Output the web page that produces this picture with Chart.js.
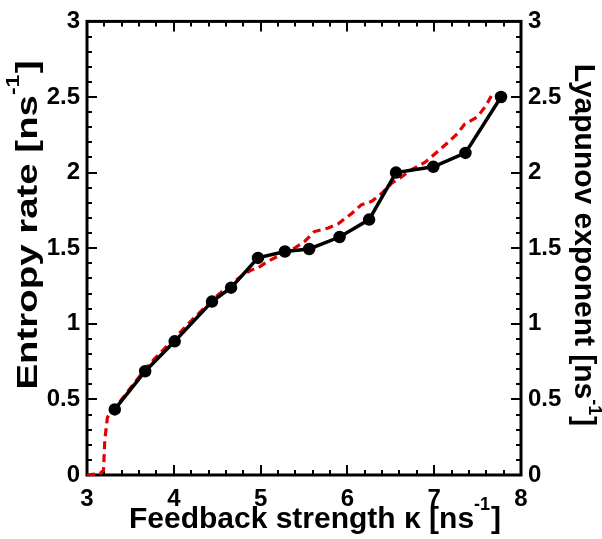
<!DOCTYPE html>
<html>
<head>
<meta charset="utf-8">
<script src="https://cdn.jsdelivr.net/npm/chart.js@4/dist/chart.umd.min.js"></script>
<style>
    body { margin: 0; background: #fff; }
    #wrap { width: 602px; height: 539px; position: relative; }
</style>
</head>
<body>
<div id="wrap"><canvas id="chart"></canvas></div>
<script>
// Lyapunov exponent (black, dots)
const kappaLyap = [3.32, 3.67, 4.01, 4.44, 4.66, 4.97, 5.28, 5.56, 5.91, 6.25, 6.56, 6.99, 7.36, 7.77];
const lyapunov = [0.434, 0.686, 0.884, 1.147, 1.239, 1.436, 1.478, 1.495, 1.574, 1.689, 2.0, 2.038, 2.13, 2.50];

// Entropy rate (red, dashed)
const kappaEntropy = [3.0, 3.15, 3.19, 3.205, 3.235, 3.26, 3.32, 3.5, 3.67, 3.78, 4.0, 4.2, 4.45, 4.65, 4.78, 4.89,
    4.97, 5.085, 5.24, 5.39, 5.51, 5.62, 5.78, 5.89, 6.05, 6.16, 6.28, 6.39, 6.51, 6.62, 6.74, 6.9, 7.04, 7.16,
    7.27, 7.35, 7.5, 7.6, 7.66, 7.75, 7.79];
const entropy = [0, 0.01, 0.03, 0.23, 0.38, 0.405, 0.44, 0.575, 0.70, 0.77, 0.9, 1.02, 1.16, 1.26, 1.316, 1.355,
    1.37, 1.414, 1.458, 1.50, 1.546, 1.61, 1.634, 1.66, 1.73, 1.787, 1.81, 1.86, 1.93, 1.97, 2.02, 2.07, 2.14, 2.2,
    2.26, 2.32, 2.37, 2.445, 2.51, 2.52, 2.50];

// tick labels
const xTicks = [3, 4, 5, 6, 7, 8];
const yTicks = [0, 0.5, 1, 1.5, 2, 2.5, 3];

const FONT = '"Liberation Sans", Arial, Helvetica, sans-serif';

// draws "main [ns" + superscript "-1" + "]" centred on (0,0) in current transform
function drawSupText(ctx, before, sup, after, size, raise) {
    const supSize = Math.round(size * 0.6);
    ctx.font = `bold ${size}px ${FONT}`;
    const w1 = ctx.measureText(before).width;
    const w3 = ctx.measureText(after).width;
    ctx.font = `bold ${supSize}px ${FONT}`;
    const w2 = ctx.measureText(sup).width;
    const total = w1 + w2 + w3 + 1;
    let x = -total / 2;
    ctx.textBaseline = 'alphabetic';
    ctx.textAlign = 'left';
    ctx.font = `bold ${size}px ${FONT}`;
    ctx.fillText(before, x, 0);
    x += w1;
    ctx.font = `bold ${supSize}px ${FONT}`;
    ctx.fillText(sup, x, -size * raise);
    x += w2 + 1;
    ctx.font = `bold ${size}px ${FONT}`;
    ctx.fillText(after, x, 0);
}

const framePlugin = {
    id: 'frame',
    beforeDatasetsDraw(chart) {
        const { ctx, chartArea: a, scales } = chart;
        ctx.save();
        ctx.strokeStyle = '#000';
        ctx.lineWidth = 3;
        ctx.strokeRect(a.left, a.top, a.right - a.left, a.bottom - a.top);

        ctx.lineWidth = 2;
        ctx.beginPath();
        // x ticks, minor every 0.2
        for (let i = 0; i <= 25; i++) {
            const v = 3 + i * 0.2;
            const px = Math.round(scales.x.getPixelForValue(v));
            const len = i % 5 === 0 ? 10 : 5;
            ctx.moveTo(px, a.bottom); ctx.lineTo(px, a.bottom - len);
            ctx.moveTo(px, a.top); ctx.lineTo(px, a.top + len);
        }
        // y ticks, minor every 0.1
        for (let i = 0; i <= 30; i++) {
            const v = i * 0.1;
            const py = Math.round(scales.y.getPixelForValue(v));
            const len = i % 5 === 0 ? 10 : 5;
            ctx.moveTo(a.left, py); ctx.lineTo(a.left + len, py);
            ctx.moveTo(a.right, py); ctx.lineTo(a.right - len, py);
        }
        ctx.stroke();
        ctx.restore();
    },
    afterDraw(chart) {
        const { ctx } = chart;
        ctx.save();
        ctx.fillStyle = '#000';

        // bottom title
        ctx.save();
        ctx.translate(315, 528);
        drawSupText(ctx, 'Feedback strength \u03ba [ns', '-1', ']', 30, 0.6);
        ctx.restore();

        // left title (stretched along its direction like the reference)
        ctx.save();
        ctx.translate(37, 225);
        ctx.rotate(-Math.PI / 2);
        ctx.scale(1.28, 1);
        drawSupText(ctx, 'Entropy rate [ns', '-1', ']', 30, 0.6);
        ctx.restore();

        // right title
        ctx.save();
        ctx.translate(575, 245);
        ctx.rotate(Math.PI / 2);
        drawSupText(ctx, 'Lyapunov exponent [ns', '-1', ']', 30, 0.45);
        ctx.restore();

        ctx.restore();
    }
};

const tickFont = { family: FONT, size: 24, weight: 'bold' };

function yScale(position, width) {
    return {
        type: 'linear',
        position: position,
        min: 0,
        max: 3,
        afterBuildTicks: s => { s.ticks = yTicks.map(v => ({ value: v })); },
        afterFit: s => { s.width = width; },
        grid: { display: false, drawTicks: false },
        border: { display: false },
        ticks: { font: tickFont, color: '#000', padding: 7, callback: v => String(v) }
    };
}

new Chart(document.getElementById('chart'), {
    type: 'scatter',
    data: {
        datasets: [
            {
                label: 'Lyapunov exponent',
                data: kappaLyap.map((k, i) => ({ x: k, y: lyapunov[i] })),
                yAxisID: 'y2',
                showLine: true,
                borderColor: '#000',
                backgroundColor: '#000',
                borderWidth: 3.5,
                pointRadius: 4.5,
                pointHoverRadius: 4.5,
                order: 0
            },
            {
                label: 'Entropy rate',
                data: kappaEntropy.map((k, i) => ({ x: k, y: entropy[i] })),
                yAxisID: 'y',
                showLine: true,
                borderColor: '#e30000',
                borderWidth: 3.2,
                borderDash: [8, 5],
                pointRadius: 0,
                clip: 4,
                order: 1
            }
        ]
    },
    options: {
        responsive: true,
        maintainAspectRatio: false,
        animation: false,
        layout: { padding: { top: 19, left: 0, right: 0, bottom: 0 } },
        plugins: { legend: { display: false }, tooltip: { enabled: false } },
        scales: {
            x: {
                type: 'linear',
                position: 'bottom',
                min: 3,
                max: 8,
                afterBuildTicks: s => { s.ticks = xTicks.map(v => ({ value: v })); },
                afterFit: s => { s.height = 64; },
                grid: { display: false, drawTicks: false },
                border: { display: false },
                ticks: { font: tickFont, color: '#000', padding: 10, maxRotation: 0, callback: v => String(v) }
            },
            y: yScale('left', 87),
            y2: yScale('right', 81)
        }
    },
    plugins: [framePlugin]
});
</script>
</body>
</html>
